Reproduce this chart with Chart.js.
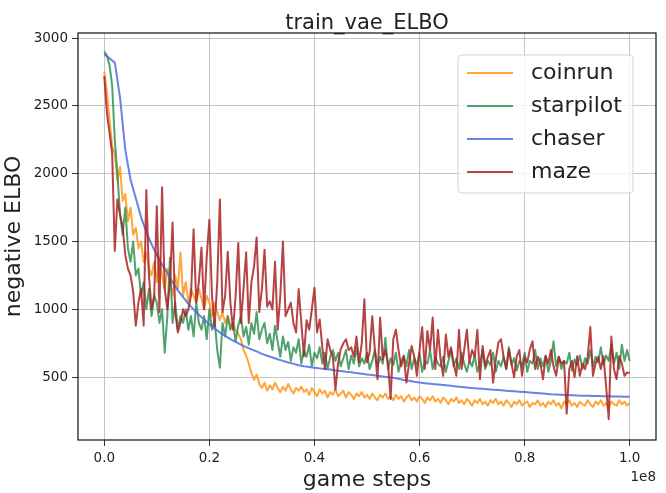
<!DOCTYPE html>
<html>
<head>
<meta charset="utf-8">
<script src="https://cdn.jsdelivr.net/npm/chart.js@4.4.1/dist/chart.umd.min.js"></script>
<style>
  html, body { margin: 0; padding: 0; background: #fff; }
  #wrap { width: 666px; height: 493px; }
</style>
</head>
<body>
<div id="wrap"><canvas id="elboChart" width="666" height="493"></canvas></div>
<script>
// x axis in units of 1e8 game steps
const xTicks = [0.0, 0.2, 0.4, 0.6, 0.8, 1.0];
const yTicks = [500, 1000, 1500, 2000, 2500, 3000];
const seriesNames = ['coinrun', 'starpilot', 'chaser', 'maze'];

// noisy runs, one sample every 0.005e8 steps (0 .. 1.0)
const sampleStep = 0.005;
const coinrun = [
  2750, 2600, 2400, 2200, 2150, 1950, 2050, 1800, 1850, 1650,
  1750, 1550, 1600, 1450, 1500, 1350, 1420, 1300, 1250, 1350,
  1200, 1380, 1250, 1150, 1300, 1200, 1100, 1250, 1150, 1420,
  1100, 1200, 1050, 1150, 1100, 1050, 1150, 1080, 1000, 1100,
  1050, 950, 1050, 980, 920, 980, 900, 950, 880, 900,
  850, 820, 780, 700, 660, 600, 530, 480, 520, 450,
  420, 460, 400, 440, 410, 460, 420, 390, 430, 400,
  450, 410, 380, 420, 400, 430, 390, 410, 370, 420,
  390, 360, 410, 380, 400, 350, 390, 370, 410, 360,
  380, 400, 350, 390, 370, 340, 380, 360, 390, 350,
  370, 340, 380, 350, 330, 370, 350, 380, 340, 360,
  330, 370, 340, 360, 320, 350, 370, 330, 350, 320,
  360, 340, 310, 350, 330, 360, 320, 340, 310, 350,
  330, 300, 340, 320, 350, 310, 330, 300, 340, 320,
  290, 330, 310, 340, 300, 320, 290, 330, 310, 340,
  300, 320, 290, 330, 310, 280, 320, 300, 330, 290,
  310, 320, 280, 310, 300, 330, 290, 310, 280, 320,
  300, 330, 290, 310, 270, 320, 300, 330, 290, 310,
  280, 320, 300, 290, 330, 300, 280, 320, 300, 330,
  290, 310, 270, 320, 300, 290, 330, 300, 320, 290,
  310
];
const starpilot = [
  2900, 2870, 2800, 2650, 2250, 2000, 1700, 1550, 1750, 1450,
  1350, 1500, 1250, 1300, 1100, 1200, 1000, 1150, 950, 1100,
  1050, 900, 1000, 680, 950, 1380, 900, 1050, 850, 950,
  900, 1000, 850, 950, 800, 1050, 900, 850, 950, 780,
  1000, 850, 920, 700, 570, 900, 800, 950, 850, 900,
  760, 880, 950, 800, 870, 740, 900, 820, 980, 780,
  850, 900, 750, 820, 700, 880, 760, 650, 800, 700,
  760, 620, 720, 680, 780, 600, 700, 650, 740, 580,
  680, 640, 720, 600, 680, 560, 650, 700, 620, 680,
  580, 640, 700, 560, 660, 600, 720, 580, 640, 600,
  680, 560, 620, 700, 580, 650, 600, 790, 560, 640,
  590, 680, 540, 620, 660, 580, 700, 560, 640, 590,
  680, 540, 620, 600, 700, 560, 650, 600, 580, 650,
  540, 620, 700, 580, 640, 560, 680, 600, 540, 620,
  580, 660, 540, 600, 700, 560, 620, 590, 680, 540,
  620, 580, 650, 560, 720, 590, 640, 550, 620, 580,
  680, 540, 620, 600, 700, 560, 640, 580, 660, 540,
  620, 765, 580, 650, 560, 620, 600, 680, 550, 630,
  590, 660, 560, 640, 600, 700, 580, 650, 610, 720,
  590, 660, 620, 740, 600, 680, 560, 740, 620, 700,
  620
];
const maze = [
  2720, 2450, 2300, 2150, 1430, 1810, 1700, 1610, 1400, 1300,
  1250, 1130, 880, 1050, 1150, 880, 1880, 1250, 1000, 1100,
  1760, 980, 1900, 1150, 1000, 1200, 1640, 980, 830, 900,
  1000, 950, 1000, 1100, 1590, 1050, 1200, 1455, 1000, 1390,
  1660, 1100, 875, 1200, 1810, 980, 1100, 1425, 1050, 850,
  1100, 1490, 900, 1150, 1420, 900, 1200, 1315, 1530, 980,
  1150, 1440, 1020, 1060, 1000, 1350, 850, 1100, 1500, 950,
  1000, 1050, 900, 830, 1150, 900, 655, 920, 850, 1000,
  1160, 830, 925, 720, 560, 780, 700, 650, 410, 600,
  705, 750, 780, 700, 720, 650, 800, 610, 750, 1075,
  610, 685, 950, 700, 485, 940, 630, 700, 600, 340,
  780, 850, 700, 580, 655, 460, 600, 730, 650, 510,
  700, 870, 560, 840, 700, 940, 560, 850, 630, 510,
  815, 650, 720, 600, 510, 850, 560, 700, 850, 610,
  700, 650, 850, 485, 730, 580, 650, 700, 460, 630,
  755, 780, 650, 560, 705, 600, 500, 655, 700, 510,
  650, 610, 705, 765, 560, 650, 600, 485, 655, 600,
  700, 580, 510, 650, 600, 620, 230, 560, 620, 500,
  655, 510, 600, 560, 650, 870, 510, 600, 650, 560,
  655, 435, 190, 800, 560, 485, 655, 600, 510, 535,
  530
];

// smooth run, one sample every 0.01e8 steps
const chaserStep = 0.01;
const chaser = [
  2880, 2850, 2820, 2560, 2175, 1955, 1820, 1680, 1570, 1480,
  1400, 1330, 1270, 1200, 1140, 1090, 1040, 1000, 960, 925,
  890, 860, 830, 805, 780, 760, 740, 722, 705, 690,
  672, 658, 645, 632, 620, 608, 598, 588, 580, 575,
  570, 565, 560, 556, 550, 545, 540, 536, 530, 526,
  520, 516, 510, 505, 500, 495, 488, 480, 474, 466,
  460, 456, 452, 448, 444, 440, 436, 432, 428, 424,
  420, 417, 414, 411, 408, 405, 402, 399, 396, 393,
  390, 387, 384, 381, 378, 375, 373, 371, 369, 367,
  365, 364, 363, 362, 361, 360, 359, 358, 357, 356,
  355
];

const colors = {
  coinrun: 'rgba(255, 155, 35, 0.9)',
  starpilot: 'rgba(50, 145, 85, 0.85)',
  chaser: 'rgba(75, 110, 225, 0.85)',
  maze: 'rgba(170, 35, 35, 0.85)'
};

function toPoints(values, step) {
  return values.map((v, i) => ({ x: i * step, y: v }));
}

const FONT = "'DejaVu Sans', 'Liberation Sans', sans-serif";

// legend, frame, title and offset text drawn like matplotlib
const decorPlugin = {
  id: 'decor',
  afterDraw(chart) {
    const ctx = chart.ctx;
    const a = chart.chartArea;
    ctx.save();
    // frame
    ctx.strokeStyle = '#111';
    ctx.lineWidth = 1.2;
    ctx.strokeRect(a.left, a.top, a.right - a.left, a.bottom - a.top);

    // title
    ctx.fillStyle = '#222';
    ctx.font = '21px ' + FONT;
    ctx.textAlign = 'center';
    ctx.textBaseline = 'alphabetic';
    ctx.fillText('train_vae_ELBO', (a.left + a.right) / 2, 29);

    // offset text
    ctx.font = '13.5px ' + FONT;
    ctx.textAlign = 'right';
    ctx.textBaseline = 'middle';
    ctx.fillText('1e8', a.right, 477);

    // legend box
    const bx = 458, by = 55, bw = 175, bh = 138;
    ctx.beginPath();
    ctx.roundRect(bx, by, bw, bh, 4);
    ctx.fillStyle = 'rgba(255,255,255,0.8)';
    ctx.fill();
    ctx.strokeStyle = 'rgba(205,205,205,0.9)';
    ctx.lineWidth = 1;
    ctx.stroke();

    ctx.font = '22px ' + FONT;
    ctx.textAlign = 'left';
    ctx.textBaseline = 'middle';
    chart.data.datasets.forEach((ds, i) => {
      const y = by + 18 + i * 33;
      ctx.beginPath();
      ctx.moveTo(bx + 9, y);
      ctx.lineTo(bx + 55, y);
      ctx.strokeStyle = ds.borderColor;
      ctx.lineWidth = 2;
      ctx.stroke();
      ctx.fillStyle = '#222';
      ctx.fillText(ds.label, bx + 73, y);
    });
    ctx.restore();
  }
};

const datasets = [
  { label: seriesNames[0], data: toPoints(coinrun, sampleStep), borderColor: colors.coinrun, order: 4 },
  { label: seriesNames[1], data: toPoints(starpilot, sampleStep), borderColor: colors.starpilot, order: 3 },
  { label: seriesNames[2], data: toPoints(chaser, chaserStep), borderColor: colors.chaser, order: 2 },
  { label: seriesNames[3], data: toPoints(maze, sampleStep), borderColor: colors.maze, order: 1 }
].map(ds => Object.assign(ds, {
  borderWidth: 2,
  pointRadius: 0,
  tension: 0,
  fill: false,
  borderJoinStyle: 'round'
}));

const ctx = document.getElementById('elboChart').getContext('2d');
new Chart(ctx, {
  type: 'line',
  data: { datasets: datasets },
  options: {
    responsive: false,
    animation: false,
    layout: { padding: { left: 0, top: 33, right: 10, bottom: 0 } },
    plugins: {
      legend: { display: false },
      tooltip: { enabled: false }
    },
    scales: {
      x: {
        type: 'linear',
        min: -0.05,
        max: 1.05,
        afterFit: scale => { scale.height = 53; },
        afterBuildTicks: scale => { scale.ticks = xTicks.map(v => ({ value: v })); },
        grid: { color: 'rgba(176,176,176,0.75)', lineWidth: 1, tickLength: 6, tickColor: '#333' },
        border: { display: false },
        ticks: {
          color: '#222',
          font: { family: FONT, size: 13.5 },
          padding: 4,
          maxRotation: 0,
          callback: v => v.toFixed(1)
        },
        title: {
          display: true,
          text: 'game steps',
          color: '#222',
          font: { family: FONT, size: 22 },
          padding: { top: 0, bottom: 0 }
        }
      },
      y: {
        type: 'linear',
        min: 37,
        max: 3037,
        afterFit: scale => { scale.width = 78; },
        afterBuildTicks: scale => { scale.ticks = yTicks.map(v => ({ value: v })); },
        grid: { color: 'rgba(176,176,176,0.75)', lineWidth: 1, tickLength: 6, tickColor: '#333' },
        border: { display: false },
        ticks: {
          color: '#222',
          font: { family: FONT, size: 13.5 },
          padding: 4,
          callback: v => String(v)
        },
        title: {
          display: true,
          text: 'negative ELBO',
          color: '#222',
          font: { family: FONT, size: 22 },
          padding: { top: 1, bottom: 0 }
        }
      }
    }
  },
  plugins: [decorPlugin]
});
</script>
</body>
</html>
